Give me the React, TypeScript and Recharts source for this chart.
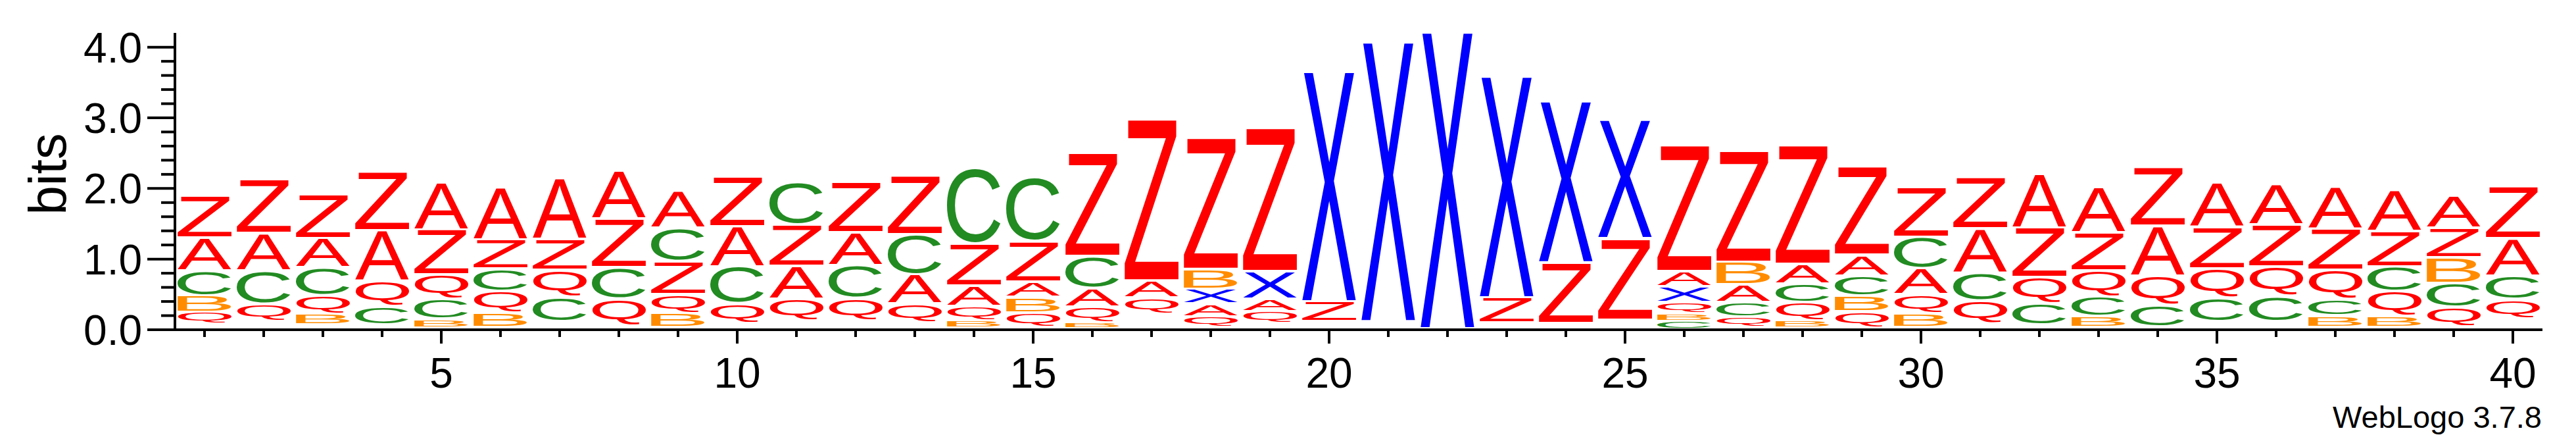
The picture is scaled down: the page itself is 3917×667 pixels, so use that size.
import React from "react"
import { BarChart, Bar, XAxis, YAxis } from "recharts"

if (typeof document !== "undefined") document.body.style.margin = "0"

const FONT = '"Liberation Sans", Arial, Helvetica, sans-serif'

const positions = [
  1, 2, 3, 4, 5, 6, 7, 8, 9, 10, 11, 12, 13, 14, 15, 16, 17, 18, 19, 20,
  21, 22, 23, 24, 25, 26, 27, 28, 29, 30, 31, 32, 33, 34, 35, 36, 37, 38, 39, 40,
]

// letters of each stack, bottom to top ("." = empty space / tiny letters)
const stackLetters = [
  ".QBCAZ", ".QCAZ", ".BQCAZ", ".CQAZ", ".BCQZA", ".BQCZA", ".CQZA", ".QCZA",
  ".BQZCA", ".QCAZ", ".QAZC", ".QCAZ", ".QACZ", ".BQAZC", ".QBAZC", ".BQACZ",
  ".QAZ", ".QAXBZ", ".QAXZ", ".ZX", ".X", "X", ".ZX", ".ZX",
  ".ZX", "CBQXAZ", ".QCABZ", ".BQCAZ", ".QBCAZ", ".BQACZ", ".QCAZ", ".CQZA",
  ".BCQZA", ".CQAZ", ".CQZA", ".CQZA", ".BCQZA", ".BQCZA", ".QCBZA", ".QCAZ",
]

// top of each letter in bits, same order as stackLetters
const stackTops = [
  [0.065, 0.233, 0.466, 0.817, 1.289, 1.888],
  [0.11, 0.351, 0.823, 1.351, 2.112],
  [0.055, 0.205, 0.469, 0.863, 1.276, 1.898],
  [0.055, 0.314, 0.677, 1.391, 2.23],
  [0.02, 0.134, 0.419, 0.761, 1.401, 2.065],
  [0.02, 0.217, 0.528, 0.848, 1.261, 1.997],
  [0.1, 0.444, 0.826, 1.267, 2.127],
  [0.04, 0.419, 0.863, 1.553, 2.23],
  [0.02, 0.217, 0.481, 0.95, 1.422, 1.95],
  [0.07, 0.357, 0.879, 1.447, 2.146],
  [0.11, 0.419, 0.888, 1.469, 2.065],
  [0.11, 0.429, 0.894, 1.36, 2.081],
  [0.08, 0.351, 0.77, 1.335, 2.177],
  [0.02, 0.109, 0.32, 0.606, 1.205, 2.27],
  [0.02, 0.227, 0.444, 0.661, 1.236, 2.146],
  [0.02, 0.09, 0.304, 0.568, 1.025, 2.5],
  [0.21, 0.435, 0.677, 2.966],
  [0.02, 0.171, 0.351, 0.562, 0.842, 2.705],
  [0.07, 0.242, 0.419, 0.811, 2.845],
  [0.1, 0.382, 3.643],
  [0.1, 4.062],
  [4.202],
  [0.08, 0.438, 3.575],
  [0.075, 0.935, 3.224],
  [0.125, 1.276, 2.96],
  [0.118, 0.217, 0.376, 0.599, 0.811, 2.599],
  [0.03, 0.165, 0.376, 0.621, 0.941, 2.522],
  [0.02, 0.112, 0.373, 0.637, 0.91, 2.593],
  [0.02, 0.242, 0.466, 0.748, 1.04, 2.292],
  [0.02, 0.211, 0.481, 0.848, 1.298, 1.997],
  [0.07, 0.398, 0.792, 1.413, 2.146],
  [0.05, 0.357, 0.724, 1.429, 2.193],
  [0.02, 0.174, 0.45, 0.817, 1.36, 2.006],
  [0.02, 0.326, 0.748, 1.453, 2.292],
  [0.1, 0.429, 0.848, 1.438, 2.068],
  [0.1, 0.46, 0.879, 1.475, 2.05],
  [0.02, 0.18, 0.413, 0.826, 1.407, 2.003],
  [0.02, 0.171, 0.528, 0.879, 1.376, 1.966],
  [0.02, 0.304, 0.646, 1.009, 1.429, 1.882],
  [0.14, 0.413, 0.748, 1.276, 2.012],
]

const yTicks = [
  0, 0.2, 0.4, 0.6, 0.8, 1, 1.2, 1.4, 1.6, 1.8, 2, 2.2, 2.4, 2.6, 2.8, 3, 3.2,
  3.4, 3.6, 3.8, 4,
]

const LETTER_COLORS: Record<string, string> = {
  A: "#FF0000",
  Q: "#FF0000",
  Z: "#FF0000",
  C: "#228B22",
  B: "#FF8C00",
  X: "#0000FF",
}

const LAYERS = [0, 1, 2, 3, 4, 5]

const data = positions.map((pos, i) => {
  const row: any = { pos, letters: stackLetters[i] }
  const tops = stackTops[i]
  LAYERS.forEach((k) => {
    row["h" + k] = k < tops.length ? tops[k] - (k > 0 ? tops[k - 1] : 0) : 0
  })
  return row
})

// ink bounding boxes of the glyphs at 100px
type Ink = { l: number; r: number; a: number; d: number }
const inkCache: Record<string, Ink> = {}
function ink(ch: string): Ink {
  if (inkCache[ch]) return inkCache[ch]
  let m: Ink = { l: 0, r: 66, a: 72, d: 0 }
  try {
    const ctx = document.createElement("canvas").getContext("2d")
    if (ctx) {
      ctx.font = `100px ${FONT}`
      const t = ctx.measureText(ch)
      m = {
        l: t.actualBoundingBoxLeft,
        r: t.actualBoundingBoxRight,
        a: t.actualBoundingBoxAscent,
        d: t.actualBoundingBoxDescent,
      }
    }
  } catch (e) {}
  inkCache[ch] = m
  return m
}

function Glyph(props: any) {
  const { x, y, width, height, payload, rank } = props
  const ch = payload?.letters?.[rank]
  if (!ch || ch === "." || !(height > 0)) return null
  const m = ink(ch)
  const gap = Math.min(4, height * 0.25)
  const h = height - gap
  const sx = width / (m.l + m.r)
  const sy = h / (m.a + m.d)
  const tx = x + m.l * sx
  const ty = y + height - gap - m.d * sy
  return (
    <text
      transform={`translate(${tx},${ty}) scale(${sx},${sy})`}
      fontSize={100}
      fontFamily={FONT}
      fill={LETTER_COLORS[ch] || "#800080"}
    >
      {ch}
    </text>
  )
}

function XTick(props: any) {
  const { x, y, payload } = props
  const major = payload.value % 5 === 0
  return (
    <g>
      <line x1={x} x2={x} y1={y} y2={y + (major ? 21 : 11)} stroke="#000" strokeWidth={4} />
      {major && (
        <text x={x} y={y + 88} textAnchor="middle" fontSize={64} fontFamily={FONT} fill="#000">
          {payload.value}
        </text>
      )}
    </g>
  )
}

function YTick(props: any) {
  const { x, y, payload } = props
  const v = payload.value
  const major = Math.abs(v - Math.round(v)) < 1e-6
  return (
    <g>
      <line x1={x - (major ? 42 : 21)} x2={x} y1={y} y2={y} stroke="#000" strokeWidth={4} />
      {major && (
        <text x={x - 50} y={y + 23} textAnchor="end" fontSize={64} fontFamily={FONT} fill="#000">
          {v.toFixed(1)}
        </text>
      )}
    </g>
  )
}

export default function App() {
  return (
    <div style={{ position: "relative", width: 3917, height: 667, background: "#fff" }}>
      <BarChart
        width={3917}
        height={667}
        data={data}
        margin={{ top: 50, right: 51, bottom: 0, left: 0 }}
        barCategoryGap={4}
      >
        <XAxis
          dataKey="pos"
          type="category"
          height={166}
          interval={0}
          tickLine={false}
          tickSize={0}
          tickMargin={0}
          axisLine={{ stroke: "#000", strokeWidth: 4 }}
          tick={<XTick />}
        />
        <YAxis
          type="number"
          domain={[0, 4.2]}
          ticks={yTicks}
          width={266}
          interval={0}
          tickLine={false}
          tickSize={0}
          tickMargin={0}
          axisLine={{ stroke: "#000", strokeWidth: 4 }}
          tick={<YTick />}
          label={{
            content: (p: any) => {
              const vb = p.viewBox || { x: 0, y: 50, height: 451 }
              const cy = vb.y + vb.height / 2 - 11
              return (
                <text
                  x={100}
                  y={cy}
                  transform={`rotate(-90, 100, ${cy})`}
                  textAnchor="middle"
                  fontSize={80}
                  fontFamily={FONT}
                  fill="#000"
                >
                  bits
                </text>
              )
            },
          }}
        />
        {LAYERS.map((k) => (
          <Bar
            key={k}
            dataKey={"h" + k}
            stackId="logo"
            isAnimationActive={false}
            shape={(p: any) => <Glyph {...p} rank={k} />}
          />
        ))}
      </BarChart>
      <svg
        width={3917}
        height={667}
        style={{ position: "absolute", left: 0, top: 0, pointerEvents: "none" }}
      >
        <text x={3865} y={650} textAnchor="end" fontSize={47} fontFamily={FONT} fill="#000">
          WebLogo 3.7.8
        </text>
      </svg>
    </div>
  )
}
